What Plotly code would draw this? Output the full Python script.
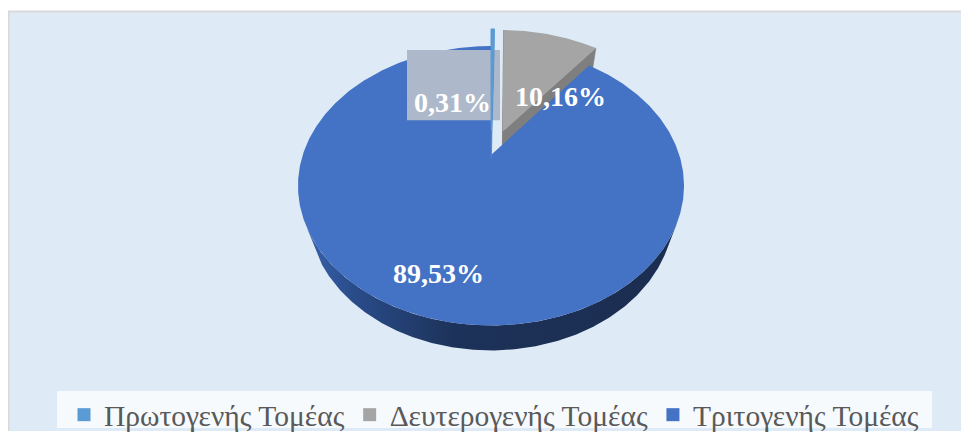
import numpy as np
import plotly.graph_objects as go

# ---- data ----
sectors = ["Πρωτογενής Τομέας", "Δευτερογενής Τομέας", "Τριτογενής Τομέας"]
shares = [0.31, 10.16, 89.53]

# ---- style ----
top_colors = ["#5B9BD5", "#A5A5A5", "#4472C4"]
side_colors = ["#4A88C2", "#7F7F7F", "#1F3864"]
side_gradient = [[0, "#3a63ad"], [0.12, "#2a4d8c"], [0.4, "#1d3259"], [1, "#1b2d50"]]
explode = [0.197, 0.197, 0.0]          # pulled-out distance (radius units)
draw_order = [1, 2, 0]
label_pos = [(452, 105), (560, 99), (438, 280)]
label_box = (407, 51, 500, 123)        # grey box behind the first label

# perspective camera (page pixels)
SX0, SY0 = 491, 158.5
A_SCALE = 188.3
PHI = np.arcsin(136.1 / 188.3)
DIST = np.cos(PHI) / 0.22
THICK = 0.2366
CAM = np.array([0.0, DIST * np.sin(PHI), -DIST * np.cos(PHI)])

OFF = 8  # default page body margin
W, H = 969, 441
FW, FH = W - OFF, H - OFF


def proj(X, Y, Z):
    X, Y, Z = np.asarray(X, float), np.asarray(Y, float), np.asarray(Z, float)
    den = 1 + (Z * np.cos(PHI) - Y * np.sin(PHI)) / DIST
    xs = A_SCALE * X / den
    ys = A_SCALE * (Y * np.cos(PHI) + Z * np.sin(PHI)) / den
    return SX0 + xs, SY0 - ys


def visible(n, p):
    return float(np.dot(n, CAM - p)) > 0


def poly(x, y, color=None, grad=None, lw=0, **extra):
    kw = dict(fillcolor=color) if grad is None else dict(fillgradient=grad)
    return go.Scatter(x=np.append(x, x[0]), y=np.append(y, y[0]), fill="toself",
                      mode="lines", line=dict(width=lw, color=color or "rgba(0,0,0,0)"),
                      showlegend=False, **kw, **extra)


fig = go.Figure()
total = sum(shares)
bounds, c = [], 0.0
for v in shares:
    bounds.append((c / total * 360, (c + v) / total * 360))
    c += v

for i in draw_order:
    if i == 0:
        bx0, by0, bx1, by1 = label_box
        fig.add_trace(poly(np.array([bx0, bx1, bx1, bx0]), np.array([by0, by0, by1, by1]),
                           "#ADB9CA", hoverinfo="skip"))
    v = shares[i]
    a0, a1 = bounds[i]
    m = np.radians((a0 + a1) / 2)
    ox, oz = explode[i] * np.sin(m), explode[i] * np.cos(m)
    O = np.array([ox, 0, oz])
    # radial faces
    for a, sgn in ((a0, -1), (a1, 1)):
        t = np.radians(a)
        n = sgn * np.array([np.cos(t), 0, -np.sin(t)])
        rimp = O + np.array([np.sin(t), 0, np.cos(t)])
        if visible(n, O) or visible(n, rimp):
            X = [ox, rimp[0], rimp[0], ox]
            Z = [oz, rimp[2], rimp[2], oz]
            Y = [0, 0, -THICK, -THICK]
            px, py = proj(X, Y, Z)
            fig.add_trace(poly(px, py, side_colors[i], lw=0.6, hoverinfo="skip"))
    # outer curved band (visible part)
    th = np.linspace(a0, a1, max(8, int((a1 - a0) * 2)))
    tr = np.radians(th)
    vis = np.array([visible(np.array([np.sin(q), 0, np.cos(q)]),
                            O + np.array([np.sin(q), 0, np.cos(q)])) for q in tr])
    if vis.any():
        idx = np.where(vis)[0]
        runs = np.split(idx, np.where(np.diff(idx) > 1)[0] + 1)
        for r in runs:
            q = tr[r]
            X = ox + np.sin(q)
            Z = oz + np.cos(q)
            tx, ty = proj(X, 0 * X, Z)
            bx, by = proj(X, 0 * X - THICK, Z)
            grad = dict(type="horizontal", colorscale=side_gradient) if i == 2 else None
            fig.add_trace(poly(np.concatenate([tx, bx[::-1]]), np.concatenate([ty, by[::-1]]),
                               side_colors[i], grad=grad, hoverinfo="skip"))
    # top face
    X = np.concatenate([[ox], ox + np.sin(tr)])
    Z = np.concatenate([[oz], oz + np.cos(tr)])
    px, py = proj(X, 0 * X, Z)
    fig.add_trace(poly(px, py, top_colors[i], lw=1.2 if i == 0 else 0, name=sectors[i],
                       hovertemplate=f"{sectors[i]}: {v:.2f}%<extra></extra>"))

# legend entries
for name, col in zip(sectors, top_colors):
    fig.add_trace(go.Scatter(x=[None], y=[None], mode="markers", name=name,
                             marker=dict(symbol="square", size=13, color=col)))

# labels
for i, v in enumerate(shares):
    txt = f"{v:.2f}".replace(".", ",") + "%"
    fig.add_annotation(x=label_pos[i][0], y=label_pos[i][1], text=f"<b>{txt}</b>",
                       showarrow=False, xref="x", yref="y",
                       font=dict(family="Liberation Serif", size=28, color="white"))

shapes = [
    dict(type="rect", xref="x", yref="y", x0=8.5, y0=11.5, x1=1000, y1=470,
         fillcolor="#DEEBF7", line=dict(color="#D9D9D9", width=2), layer="below"),
    dict(type="rect", xref="x", yref="y", x0=57, y0=400, x1=932, y1=438,
         fillcolor="#F6FAFD", line=dict(width=0), layer="below"),
]

fig.update_layout(
    width=FW, height=FH, autosize=False,
    margin=dict(l=0, r=0, t=0, b=0, pad=0),
    paper_bgcolor="white", plot_bgcolor="rgba(0,0,0,0)",
    xaxis=dict(range=[OFF, W], visible=False, fixedrange=True),
    yaxis=dict(range=[H, OFF], visible=False, fixedrange=True),
    shapes=shapes,
    showlegend=True,
    legend=dict(orientation="h", x=(64 - OFF) / FW, xanchor="left",
                y=1 - (425 - OFF) / FH, yanchor="middle",
                bgcolor="rgba(0,0,0,0)",
                font=dict(family="Liberation Serif", size=29.5, color="#595959")),
)
fig.write_html("out.html")
